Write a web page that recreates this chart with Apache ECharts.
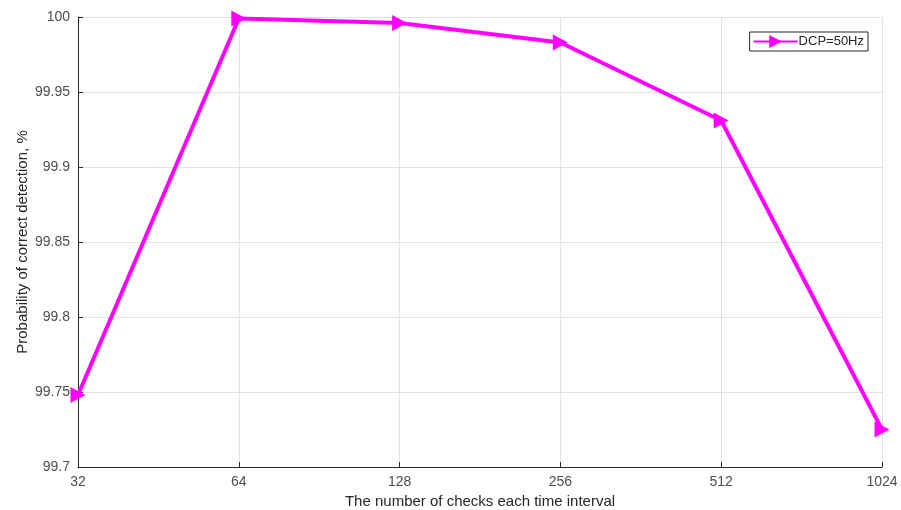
<!DOCTYPE html>
<html>
<head>
<meta charset="utf-8">
<script src="https://cdn.jsdelivr.net/npm/echarts@6/dist/echarts.min.js"></script>
<style>
html, body { margin: 0; padding: 0; background: #fff; }
#chart { width: 901px; height: 510px; }
</style>
</head>
<body>
<div id="chart"></div>
<script>
var categories = ['32', '64', '128', '256', '512', '1024'];
var dcp50 = [99.748, 99.999, 99.996, 99.983, 99.931, 99.725];
var seriesName = 'DCP=50Hz';

var chart = echarts.init(document.getElementById('chart'));
var axisText = { color: '#4d4d4d', fontSize: 14, fontFamily: 'Liberation Sans, Arial' };

var option = {
	backgroundColor: '#fff',
	animation: false,
	grid: { left: 78, right: 19, top: 17, bottom: 43, outerBoundsMode: 'none' },
	legend: {
		data: [seriesName],
		right: 33,
		top: 32,
		orient: 'vertical',
		borderColor: '#262626',
		borderWidth: 1,
		padding: [3, 4, 3, 3],
		itemWidth: 44,
		itemHeight: 16,
		itemGap: 0,
		textStyle: { color: '#262626', fontSize: 13, fontFamily: 'Liberation Sans, Arial', padding: [0, 0, 0, -4] }
	},
	xAxis: {
		type: 'category',
		data: categories,
		boundaryGap: false,
		name: 'The number of checks each time interval',
		nameLocation: 'middle',
		nameGap: 26,
		nameTextStyle: { color: '#262626', fontSize: 15, fontFamily: 'Liberation Sans, Arial' },
		axisLine: { lineStyle: { color: '#262626', width: 1 } },
		axisTick: { inside: true, length: 5, lineStyle: { color: '#262626' } },
		axisLabel: Object.assign({ margin: 8 }, axisText),
		splitLine: { show: true, lineStyle: { color: '#e3e3e3', width: 1 } }
	},
	yAxis: {
		type: 'value',
		min: 99.7,
		max: 100,
		interval: 0.05,
		name: 'Probability of correct detection, %',
		nameLocation: 'middle',
		nameGap: 48,
		nameMoveOverlap: false,
		nameTextStyle: { color: '#262626', fontSize: 15, fontFamily: 'Liberation Sans, Arial' },
		axisLine: { show: true, lineStyle: { color: '#262626', width: 1 } },
		axisTick: { show: true, inside: true, length: 5, lineStyle: { color: '#262626' } },
		axisLabel: Object.assign({
			margin: 8,
			formatter: function (v) { return String(parseFloat(v.toFixed(2))); }
		}, axisText),
		splitLine: { show: true, lineStyle: { color: '#e3e3e3', width: 1 } }
	},
	series: [{
		name: seriesName,
		type: 'line',
		data: dcp50,
		symbol: 'triangle',
		symbolSize: [16, 15],
		symbolRotate: -90,
		lineStyle: { color: '#ff00ff', width: 4 },
		itemStyle: { color: '#ff00ff' }
	}]
};
chart.setOption(option);
</script>
</body>
</html>
